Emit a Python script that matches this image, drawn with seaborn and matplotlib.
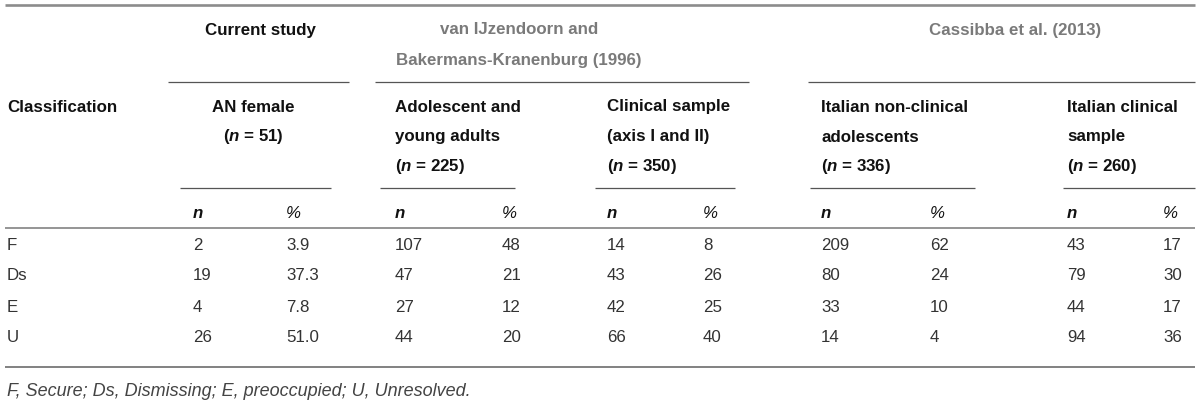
import matplotlib
matplotlib.use("Agg")
import matplotlib.pyplot as plt
import seaborn as sns

# --- table data ---
classes = ["F", "Ds", "E", "U"]
current_n = [2, 19, 4, 26]
current_pct = [3.9, 37.3, 7.8, 51.0]
adol_n = [107, 47, 27, 44]
adol_pct = [48, 21, 12, 20]
clin_n = [14, 43, 42, 66]
clin_pct = [8, 26, 25, 40]
itnc_n = [209, 80, 33, 14]
itnc_pct = [62, 24, 10, 4]
itc_n = [43, 79, 44, 94]
itc_pct = [17, 30, 17, 36]

sample_labels = [
    ["AN female", r"($\mathbfit{n}$ = 51)"],
    ["Adolescent and", "young adults", r"($\mathbfit{n}$ = 225)"],
    ["Clinical sample", "(axis I and II)", r"($\mathbfit{n}$ = 350)"],
    ["Italian non-clinical", "adolescents", r"($\mathbfit{n}$ = 336)"],
    ["Italian clinical", "sample", r"($\mathbfit{n}$ = 260)"],
]
study_labels = [
    ["Current study"],
    ["van IJzendoorn and", "Bakermans-Kranenburg (1996)"],
    ["Cassibba et al. (2013)"],
]
footnote = "F, Secure; Ds, Dismissing; E, preoccupied; U, Unresolved."

# --- style ---
sns.set_theme(style="white")
plt.rcParams["font.family"] = ["Liberation Sans", "DejaVu Sans"]
plt.rcParams["mathtext.fontset"] = "custom"
plt.rcParams["mathtext.rm"] = "Liberation Sans"
plt.rcParams["mathtext.it"] = "Liberation Sans:italic"
plt.rcParams["mathtext.bf"] = "Liberation Sans:bold"
plt.rcParams["mathtext.bfit"] = "Liberation Sans:bold:italic"

FS = 12.2
BLACK = "#111111"
GREY_HEAD = "#7a7a7a"
BODY = "#333333"
RULE = "#8c8c8c"
LINE = "#555555"

W, H = 1200, 403
fig = plt.figure(figsize=(12, 4.03), dpi=100)
ax = fig.add_axes([0, 0, 1, 1])
ax.set_xlim(0, W)
ax.set_ylim(H, 0)
ax.axis("off")

# column x positions (n column, % column) for each sample
col_x = [(193, 286), (395, 502), (607, 703), (821, 930), (1067, 1163)]
sub_lines = [(180, 331), (380, 515), (595, 735), (810, 975), (1063, 1195)]
study_lines = [(168, 349), (375, 749), (808, 1195)]
study_centers = [260, 519, 1015]
study_colors = [BLACK, GREY_HEAD, GREY_HEAD]

# rules
ax.hlines(5, 5, 1195, color=RULE, lw=1.9)
ax.hlines(228, 5, 1195, color=RULE, lw=1.3)
ax.hlines(367, 5, 1195, color="#777777", lw=1.3)
for x0, x1 in study_lines:
    ax.hlines(81.5, x0, x1, color=LINE, lw=0.9)
for x0, x1 in sub_lines:
    ax.hlines(188, x0, x1, color=LINE, lw=0.9)

# study headers
for lines, cx, c in zip(study_labels, study_centers, study_colors):
    for i, s in enumerate(lines):
        ax.text(cx, 30 + 31 * i, s, ha="center", va="center",
                fontsize=FS, fontweight="bold", color=c)

ax.text(7, 107, "Classification", ha="left", va="center",
        fontsize=FS, fontweight="bold", color=BLACK)

# sample headers
for j, lines in enumerate(sample_labels):
    for i, s in enumerate(lines):
        if j == 0:
            ax.text(253, 107 + 30 * i, s, ha="center", va="center",
                    fontsize=FS, fontweight="bold", color=BLACK)
        else:
            ax.text(col_x[j][0], 107 + 30 * i, s, ha="left", va="center",
                    fontsize=FS, fontweight="bold", color=BLACK)
    ax.text(col_x[j][0], 213, "n", ha="left", va="center", fontsize=FS,
            fontweight="bold", fontstyle="italic", color=BLACK)
    ax.text(col_x[j][1], 213, "%", ha="left", va="center", fontsize=FS,
            fontstyle="italic", color=BLACK)

# body rows
n_cols = [current_n, adol_n, clin_n, itnc_n, itc_n]
pct_cols = [[f"{v:.1f}" for v in current_pct], adol_pct, clin_pct, itnc_pct, itc_pct]
row_y = [245, 276, 307, 338]
for r, (cls, y) in enumerate(zip(classes, row_y)):
    ax.text(7, y, cls, ha="left", va="center", fontsize=FS, color=BODY)
    for j in range(5):
        ax.text(col_x[j][0], y, str(n_cols[j][r]), ha="left", va="center",
                fontsize=FS, color=BODY)
        ax.text(col_x[j][1], y, str(pct_cols[j][r]), ha="left", va="center",
                fontsize=FS, color=BODY)

ax.text(7, 391, footnote, ha="left", va="center", fontsize=13,
        fontstyle="italic", color="#444444")

fig.savefig("out.png", dpi=100)
